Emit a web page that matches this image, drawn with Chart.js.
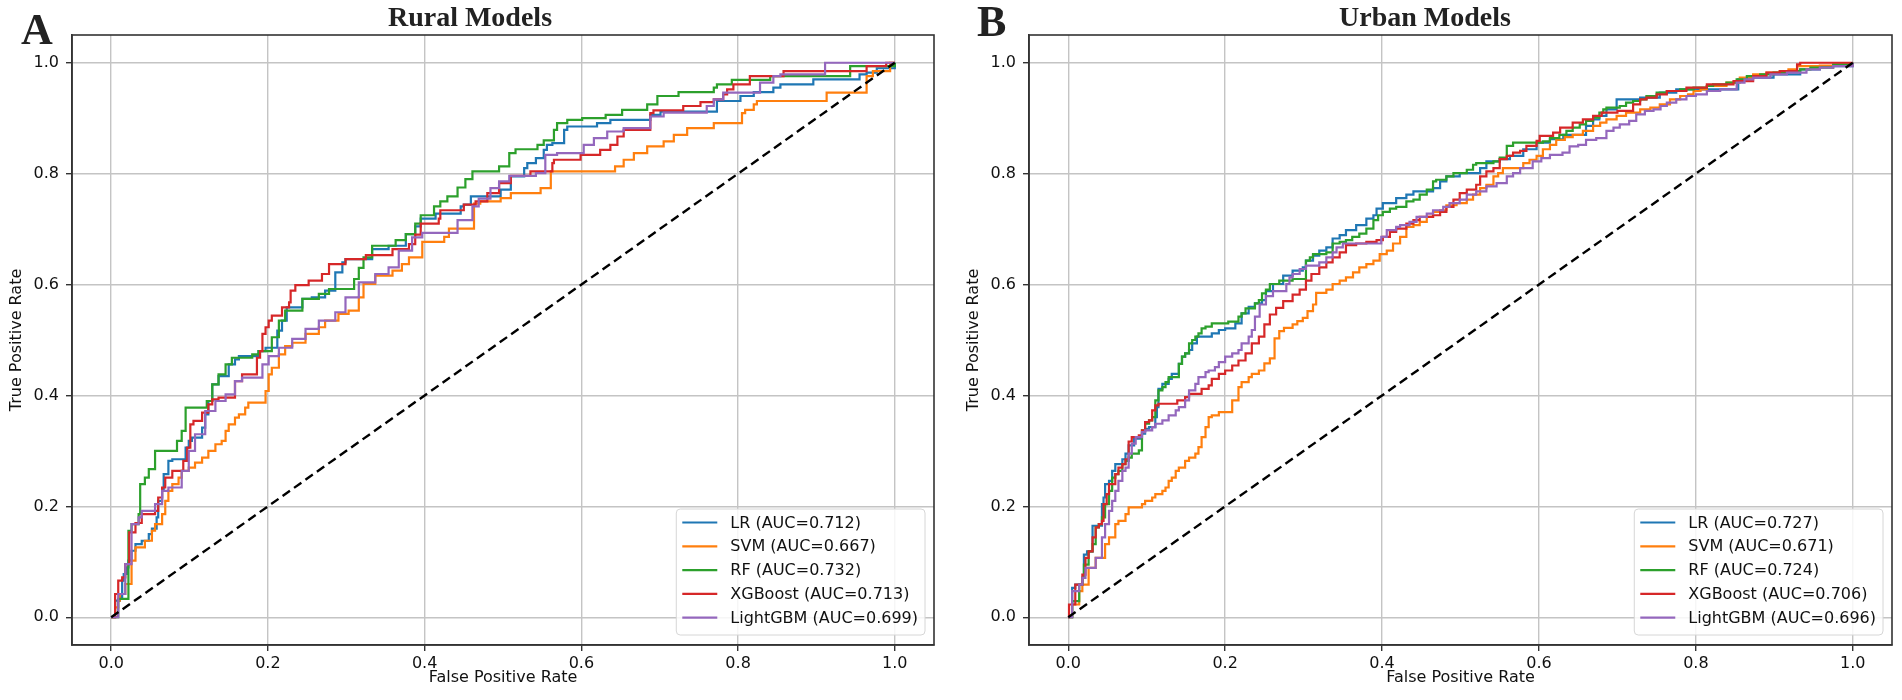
<!DOCTYPE html>
<html>
<head>
<meta charset="utf-8">
<title>ROC curves - Rural and Urban models</title>
<script src="https://cdn.jsdelivr.net/npm/chart.js@4.4.1/dist/chart.umd.min.js"></script>
<style>
  body { margin: 0; background: #fff; }
  #page { position: relative; width: 1902px; height: 700px; overflow: hidden; }
  .panel { position: absolute; top: 0; }
  .tag { position: absolute; font-family: "Liberation Serif", serif; font-weight: bold; font-size: 44px; line-height: 44px; color: #222; }
  .title { position: absolute; font-family: "Liberation Serif", serif; font-weight: bold; font-size: 28px; line-height: 28px; color: #222; transform: translateX(-50%); white-space: nowrap; }
</style>
</head>
<body>
<div id="page">
  <canvas id="rural" class="panel" style="left:0" width="951" height="700"></canvas>
  <canvas id="urban" class="panel" style="left:951px" width="951" height="700"></canvas>
  <div class="tag" style="left:21px; top:8px">A</div>
  <div class="tag" style="left:977px; top:0px">B</div>
  <div class="title" style="left:470px; top:3px">Rural Models</div>
  <div class="title" style="left:1425px; top:3px">Urban Models</div>
</div>
<script>
// model names and AUC values shown in the legends
const modelNames = ['LR', 'SVM', 'RF', 'XGBoost', 'LightGBM'];
const ruralAUC = [0.712, 0.667, 0.732, 0.713, 0.699];
const urbanAUC = [0.727, 0.671, 0.724, 0.706, 0.696];

// shared tick values for both axes
const rateTicks = [0, 0.2, 0.4, 0.6, 0.8, 1.0];
const chanceLine = [[0, 0], [1, 1]];

// ROC corner points, [fpr, tpr]
const ruralLR = [[0,0],[0.005,0.030],[0.011,0.036],[0.014,0.066],[0.016,0.078],[0.020,0.090],[0.022,0.102],[0.026,0.120],[0.031,0.132],[0.039,0.138],[0.048,0.150],[0.052,0.160],[0.058,0.180],[0.060,0.210],[0.065,0.228],[0.067,0.258],[0.073,0.282],[0.078,0.285],[0.095,0.306],[0.099,0.318],[0.103,0.324],[0.116,0.342],[0.120,0.366],[0.124,0.390],[0.129,0.420],[0.137,0.435],[0.150,0.456],[0.158,0.465],[0.163,0.471],[0.188,0.480],[0.197,0.486],[0.212,0.517],[0.218,0.535],[0.224,0.559],[0.244,0.574],[0.256,0.577],[0.273,0.589],[0.286,0.622],[0.295,0.640],[0.299,0.646],[0.333,0.664],[0.354,0.670],[0.376,0.691],[0.388,0.705],[0.395,0.719],[0.414,0.728],[0.446,0.741],[0.450,0.744],[0.459,0.759],[0.497,0.771],[0.510,0.795],[0.527,0.810],[0.531,0.819],[0.542,0.828],[0.552,0.843],[0.556,0.852],[0.563,0.855],[0.578,0.879],[0.582,0.885],[0.620,0.891],[0.637,0.897],[0.688,0.906],[0.701,0.912],[0.773,0.931],[0.803,0.940],[0.820,0.947],[0.845,0.955],[0.854,0.961],[0.896,0.970],[0.955,0.979],[0.964,0.982],[0.977,0.990],[1,1]];
const ruralSVM = [[0,0],[0.005,0.018],[0.009,0.030],[0.011,0.042],[0.018,0.060],[0.026,0.102],[0.031,0.126],[0.043,0.138],[0.052,0.156],[0.056,0.168],[0.065,0.186],[0.069,0.210],[0.073,0.228],[0.078,0.240],[0.086,0.252],[0.090,0.264],[0.099,0.270],[0.107,0.279],[0.116,0.288],[0.124,0.300],[0.133,0.312],[0.141,0.318],[0.146,0.336],[0.150,0.348],[0.158,0.360],[0.163,0.366],[0.171,0.378],[0.175,0.387],[0.197,0.408],[0.201,0.438],[0.205,0.450],[0.214,0.474],[0.222,0.489],[0.231,0.495],[0.248,0.511],[0.265,0.523],[0.273,0.535],[0.290,0.547],[0.303,0.553],[0.316,0.577],[0.322,0.601],[0.337,0.616],[0.359,0.625],[0.371,0.637],[0.380,0.649],[0.397,0.677],[0.425,0.686],[0.431,0.701],[0.463,0.746],[0.471,0.750],[0.497,0.756],[0.510,0.765],[0.548,0.774],[0.561,0.804],[0.643,0.813],[0.654,0.825],[0.667,0.837],[0.684,0.849],[0.705,0.858],[0.718,0.870],[0.735,0.882],[0.769,0.891],[0.805,0.909],[0.809,0.915],[0.820,0.925],[0.824,0.931],[0.913,0.946],[0.964,0.976],[0.972,0.985],[0.994,1.0],[1,1]];
const ruralRF = [[0,0],[0.009,0.033],[0.022,0.156],[0.026,0.168],[0.035,0.186],[0.037,0.240],[0.043,0.252],[0.048,0.267],[0.056,0.300],[0.084,0.318],[0.090,0.336],[0.095,0.378],[0.122,0.390],[0.129,0.420],[0.137,0.438],[0.146,0.456],[0.154,0.468],[0.180,0.474],[0.188,0.480],[0.205,0.505],[0.214,0.535],[0.222,0.553],[0.244,0.574],[0.265,0.583],[0.278,0.592],[0.310,0.610],[0.316,0.630],[0.322,0.649],[0.333,0.670],[0.363,0.680],[0.376,0.691],[0.388,0.710],[0.395,0.725],[0.412,0.741],[0.420,0.750],[0.429,0.759],[0.442,0.775],[0.452,0.790],[0.461,0.804],[0.495,0.813],[0.508,0.837],[0.516,0.844],[0.544,0.852],[0.552,0.860],[0.565,0.879],[0.569,0.891],[0.582,0.897],[0.601,0.900],[0.631,0.906],[0.652,0.915],[0.684,0.925],[0.697,0.940],[0.724,0.947],[0.769,0.955],[0.773,0.961],[0.792,0.969],[0.841,0.976],[0.943,0.994],[1,1]];
const ruralXGB = [[0,0],[0.005,0.042],[0.009,0.066],[0.014,0.072],[0.018,0.096],[0.023,0.153],[0.031,0.170],[0.039,0.186],[0.056,0.192],[0.060,0.216],[0.065,0.234],[0.069,0.252],[0.078,0.264],[0.092,0.282],[0.097,0.306],[0.101,0.348],[0.105,0.354],[0.116,0.369],[0.124,0.384],[0.129,0.393],[0.137,0.396],[0.158,0.426],[0.167,0.438],[0.186,0.468],[0.190,0.480],[0.193,0.511],[0.197,0.523],[0.201,0.535],[0.205,0.544],[0.218,0.559],[0.227,0.568],[0.229,0.589],[0.235,0.599],[0.252,0.607],[0.269,0.619],[0.278,0.637],[0.299,0.646],[0.325,0.653],[0.359,0.664],[0.380,0.673],[0.388,0.690],[0.395,0.710],[0.418,0.719],[0.420,0.734],[0.450,0.744],[0.465,0.750],[0.480,0.765],[0.495,0.783],[0.510,0.796],[0.535,0.804],[0.563,0.819],[0.565,0.825],[0.599,0.834],[0.624,0.843],[0.637,0.852],[0.646,0.867],[0.654,0.879],[0.688,0.909],[0.692,0.914],[0.730,0.922],[0.752,0.929],[0.769,0.934],[0.781,0.943],[0.786,0.952],[0.794,0.961],[0.815,0.976],[0.858,0.985],[0.964,0.994],[0.989,1.0],[1,1]];
const ruralLGBM = [[0,0],[0.009,0.042],[0.018,0.096],[0.026,0.168],[0.035,0.180],[0.039,0.192],[0.056,0.204],[0.065,0.228],[0.073,0.234],[0.090,0.264],[0.099,0.300],[0.107,0.330],[0.120,0.372],[0.133,0.390],[0.146,0.402],[0.158,0.426],[0.167,0.432],[0.193,0.456],[0.201,0.471],[0.214,0.486],[0.231,0.502],[0.248,0.520],[0.265,0.535],[0.286,0.550],[0.299,0.577],[0.316,0.604],[0.337,0.619],[0.354,0.631],[0.367,0.661],[0.384,0.685],[0.397,0.693],[0.442,0.716],[0.461,0.741],[0.469,0.755],[0.484,0.774],[0.495,0.786],[0.508,0.796],[0.542,0.801],[0.554,0.834],[0.569,0.837],[0.603,0.852],[0.616,0.864],[0.633,0.876],[0.654,0.882],[0.688,0.903],[0.705,0.910],[0.760,0.922],[0.769,0.934],[0.781,0.946],[0.828,0.964],[0.845,0.976],[0.854,0.979],[0.911,1.0],[1,1]];

const urbanLR = [[0,0],[0.005,0.053],[0.009,0.059],[0.018,0.071],[0.020,0.113],[0.024,0.119],[0.031,0.165],[0.043,0.204],[0.045,0.216],[0.047,0.240],[0.052,0.246],[0.056,0.264],[0.060,0.276],[0.069,0.285],[0.073,0.295],[0.077,0.310],[0.084,0.322],[0.094,0.331],[0.098,0.340],[0.103,0.343],[0.111,0.361],[0.113,0.379],[0.115,0.412],[0.120,0.421],[0.128,0.430],[0.132,0.439],[0.141,0.457],[0.145,0.470],[0.149,0.476],[0.154,0.482],[0.158,0.494],[0.164,0.506],[0.183,0.512],[0.192,0.518],[0.200,0.521],[0.213,0.530],[0.221,0.548],[0.230,0.560],[0.238,0.566],[0.247,0.572],[0.252,0.588],[0.261,0.601],[0.274,0.616],[0.286,0.625],[0.299,0.631],[0.303,0.643],[0.312,0.652],[0.320,0.661],[0.329,0.667],[0.337,0.683],[0.346,0.689],[0.354,0.698],[0.367,0.707],[0.380,0.719],[0.389,0.725],[0.393,0.737],[0.401,0.747],[0.418,0.756],[0.431,0.762],[0.440,0.768],[0.465,0.774],[0.474,0.786],[0.482,0.795],[0.499,0.801],[0.525,0.810],[0.533,0.822],[0.550,0.826],[0.563,0.832],[0.580,0.844],[0.597,0.856],[0.614,0.862],[0.631,0.870],[0.660,0.886],[0.669,0.898],[0.677,0.904],[0.686,0.916],[0.699,0.934],[0.729,0.937],[0.754,0.946],[0.775,0.952],[0.854,0.970],[0.865,0.973],[0.899,0.979],[0.933,0.988],[0.958,0.994],[1,1]];
const urbanSVM = [[0,0],[0.005,0.023],[0.014,0.047],[0.018,0.059],[0.026,0.089],[0.035,0.107],[0.047,0.132],[0.052,0.144],[0.060,0.168],[0.064,0.174],[0.073,0.186],[0.077,0.198],[0.094,0.204],[0.098,0.210],[0.107,0.216],[0.111,0.222],[0.120,0.228],[0.124,0.234],[0.128,0.246],[0.132,0.252],[0.137,0.264],[0.141,0.270],[0.149,0.282],[0.154,0.288],[0.162,0.295],[0.166,0.307],[0.170,0.325],[0.175,0.343],[0.179,0.361],[0.183,0.364],[0.192,0.370],[0.209,0.391],[0.217,0.415],[0.221,0.424],[0.230,0.433],[0.234,0.439],[0.243,0.445],[0.250,0.458],[0.257,0.467],[0.263,0.503],[0.269,0.516],[0.275,0.522],[0.286,0.528],[0.292,0.534],[0.299,0.540],[0.305,0.552],[0.312,0.564],[0.316,0.585],[0.329,0.591],[0.337,0.601],[0.346,0.607],[0.354,0.613],[0.363,0.622],[0.371,0.631],[0.380,0.637],[0.389,0.643],[0.397,0.655],[0.406,0.661],[0.414,0.674],[0.423,0.686],[0.431,0.704],[0.440,0.707],[0.448,0.713],[0.457,0.722],[0.465,0.731],[0.474,0.734],[0.482,0.743],[0.495,0.747],[0.508,0.753],[0.516,0.762],[0.525,0.774],[0.533,0.780],[0.542,0.795],[0.548,0.801],[0.554,0.810],[0.580,0.819],[0.588,0.825],[0.597,0.832],[0.605,0.844],[0.614,0.852],[0.622,0.861],[0.633,0.866],[0.643,0.870],[0.656,0.877],[0.669,0.886],[0.678,0.892],[0.686,0.898],[0.699,0.904],[0.711,0.910],[0.729,0.916],[0.742,0.919],[0.754,0.925],[0.767,0.934],[0.780,0.940],[0.790,0.943],[0.797,0.949],[0.806,0.952],[0.814,0.958],[0.839,0.964],[0.856,0.973],[0.873,0.979],[0.890,0.982],[0.907,0.985],[0.918,0.988],[0.929,0.994],[0.958,0.995],[1,1]];
const urbanRF = [[0,0],[0.005,0.029],[0.014,0.059],[0.018,0.071],[0.020,0.095],[0.026,0.119],[0.031,0.132],[0.035,0.162],[0.039,0.168],[0.043,0.180],[0.047,0.204],[0.052,0.228],[0.056,0.252],[0.060,0.258],[0.064,0.264],[0.069,0.276],[0.073,0.282],[0.077,0.288],[0.081,0.295],[0.090,0.301],[0.094,0.337],[0.098,0.349],[0.103,0.355],[0.107,0.361],[0.111,0.391],[0.115,0.409],[0.120,0.415],[0.124,0.424],[0.128,0.433],[0.141,0.457],[0.145,0.470],[0.149,0.476],[0.154,0.494],[0.158,0.500],[0.162,0.506],[0.166,0.512],[0.170,0.521],[0.175,0.524],[0.183,0.530],[0.204,0.533],[0.217,0.542],[0.221,0.548],[0.226,0.557],[0.238,0.566],[0.243,0.572],[0.247,0.584],[0.252,0.591],[0.257,0.601],[0.269,0.607],[0.286,0.610],[0.303,0.643],[0.308,0.649],[0.312,0.655],[0.329,0.658],[0.337,0.674],[0.346,0.677],[0.354,0.680],[0.362,0.686],[0.371,0.692],[0.380,0.701],[0.389,0.716],[0.395,0.725],[0.401,0.731],[0.410,0.737],[0.418,0.740],[0.431,0.750],[0.440,0.753],[0.448,0.762],[0.457,0.771],[0.465,0.786],[0.469,0.789],[0.482,0.795],[0.491,0.801],[0.508,0.807],[0.516,0.816],[0.520,0.819],[0.542,0.822],[0.550,0.829],[0.559,0.850],[0.567,0.856],[0.605,0.858],[0.614,0.864],[0.626,0.870],[0.635,0.877],[0.643,0.883],[0.652,0.889],[0.660,0.895],[0.669,0.901],[0.677,0.910],[0.682,0.916],[0.686,0.919],[0.703,0.922],[0.711,0.928],[0.720,0.931],[0.729,0.934],[0.737,0.940],[0.750,0.946],[0.763,0.949],[0.780,0.952],[0.797,0.955],[0.814,0.958],[0.822,0.961],[0.839,0.964],[0.852,0.970],[0.865,0.976],[0.882,0.979],[0.899,0.982],[0.916,0.985],[0.933,0.988],[0.946,0.991],[0.975,0.997],[1,1]];
const urbanXGB = [[0,0],[0.001,0.023],[0.009,0.059],[0.018,0.077],[0.022,0.107],[0.026,0.119],[0.031,0.144],[0.035,0.162],[0.039,0.168],[0.043,0.174],[0.045,0.204],[0.049,0.222],[0.052,0.240],[0.060,0.258],[0.064,0.270],[0.069,0.276],[0.073,0.285],[0.077,0.317],[0.081,0.325],[0.090,0.328],[0.094,0.337],[0.098,0.352],[0.103,0.355],[0.107,0.373],[0.111,0.382],[0.115,0.385],[0.139,0.391],[0.149,0.397],[0.154,0.403],[0.170,0.412],[0.179,0.418],[0.183,0.430],[0.192,0.439],[0.200,0.445],[0.209,0.454],[0.217,0.463],[0.226,0.476],[0.234,0.494],[0.243,0.506],[0.250,0.528],[0.257,0.546],[0.265,0.558],[0.274,0.570],[0.286,0.582],[0.295,0.591],[0.303,0.607],[0.310,0.619],[0.320,0.631],[0.329,0.640],[0.337,0.649],[0.346,0.658],[0.354,0.671],[0.367,0.674],[0.380,0.677],[0.393,0.680],[0.401,0.686],[0.410,0.695],[0.418,0.701],[0.431,0.710],[0.440,0.716],[0.448,0.722],[0.465,0.725],[0.474,0.731],[0.482,0.740],[0.491,0.753],[0.499,0.765],[0.508,0.771],[0.520,0.780],[0.525,0.795],[0.533,0.804],[0.542,0.810],[0.550,0.826],[0.559,0.832],[0.567,0.838],[0.576,0.841],[0.584,0.850],[0.597,0.859],[0.601,0.868],[0.618,0.874],[0.627,0.883],[0.643,0.892],[0.656,0.898],[0.669,0.904],[0.680,0.910],[0.700,0.913],[0.720,0.925],[0.729,0.934],[0.737,0.937],[0.750,0.943],[0.763,0.949],[0.788,0.955],[0.814,0.961],[0.848,0.967],[0.873,0.976],[0.890,0.982],[0.907,0.985],[0.929,0.997],[0.933,1.0],[1,1]];
const urbanLGBM = [[0,0],[0.005,0.047],[0.014,0.059],[0.018,0.071],[0.022,0.089],[0.035,0.107],[0.043,0.144],[0.047,0.168],[0.052,0.192],[0.056,0.210],[0.060,0.228],[0.064,0.246],[0.069,0.264],[0.073,0.270],[0.077,0.295],[0.081,0.313],[0.086,0.325],[0.094,0.334],[0.098,0.337],[0.107,0.343],[0.111,0.349],[0.120,0.355],[0.128,0.364],[0.137,0.373],[0.141,0.379],[0.149,0.391],[0.154,0.409],[0.162,0.421],[0.166,0.433],[0.175,0.442],[0.179,0.445],[0.187,0.451],[0.192,0.460],[0.200,0.470],[0.209,0.476],[0.217,0.482],[0.221,0.494],[0.230,0.506],[0.234,0.518],[0.238,0.542],[0.244,0.564],[0.252,0.579],[0.261,0.588],[0.278,0.601],[0.282,0.613],[0.286,0.619],[0.295,0.628],[0.303,0.634],[0.320,0.640],[0.329,0.649],[0.337,0.658],[0.342,0.667],[0.350,0.674],[0.399,0.686],[0.406,0.698],[0.418,0.704],[0.423,0.707],[0.435,0.713],[0.444,0.722],[0.457,0.728],[0.465,0.734],[0.478,0.740],[0.486,0.747],[0.499,0.753],[0.508,0.762],[0.520,0.768],[0.533,0.777],[0.546,0.783],[0.559,0.795],[0.567,0.801],[0.576,0.810],[0.592,0.822],[0.603,0.828],[0.614,0.834],[0.630,0.838],[0.639,0.849],[0.650,0.852],[0.660,0.861],[0.673,0.864],[0.686,0.877],[0.695,0.883],[0.703,0.889],[0.715,0.895],[0.724,0.907],[0.735,0.913],[0.746,0.916],[0.755,0.922],[0.763,0.928],[0.775,0.934],[0.788,0.940],[0.800,0.943],[0.814,0.949],[0.831,0.952],[0.852,0.964],[0.862,0.970],[0.873,0.973],[0.895,0.979],[0.916,0.982],[0.941,0.988],[0.958,0.991],[0.975,0.994],[1,1]];

const lineColors = ['#1f77b4', '#ff7f0e', '#2ca02c', '#d62728', '#9467bd'];

Chart.defaults.font.family = '"DejaVu Sans", sans-serif';
Chart.defaults.font.size = 16;
Chart.defaults.color = '#111';

function toPoints(pairs) {
    return pairs.map(p => ({ x: p[0], y: p[1] }));
}

// matplotlib style frame on all four sides
const frame = {
    id: 'frame',
    afterDatasetsDraw(chart) {
        const { ctx, chartArea: a } = chart;
        ctx.save();
        ctx.strokeStyle = '#333';
        ctx.lineWidth = 1.6;
        ctx.strokeRect(a.left, a.top, a.right - a.left, a.bottom - a.top);
        ctx.restore();
    }
};

// legend box in the lower right corner of the plot
const cornerLegend = {
    id: 'cornerLegend',
    afterDraw(chart) {
        const { ctx, chartArea: a } = chart;
        const items = chart.data.datasets.filter(d => d.label);
        ctx.save();
        ctx.font = '16px "DejaVu Sans"';
        const textW = Math.max(...items.map(d => ctx.measureText(d.label).width));
        const w = textW + 61;
        const h = items.length * 24 + 6;
        const x = a.right - 9 - w;
        const y = a.bottom - 10 - h;

        ctx.beginPath();
        ctx.roundRect(x, y, w, h, 4);
        ctx.fillStyle = 'rgba(255,255,255,0.85)';
        ctx.fill();
        ctx.strokeStyle = '#d6d6d6';
        ctx.lineWidth = 1;
        ctx.stroke();

        ctx.textBaseline = 'middle';
        items.forEach((d, i) => {
            const rowY = y + 13.5 + i * 23.8;
            ctx.beginPath();
            ctx.moveTo(x + 6, rowY);
            ctx.lineTo(x + 41, rowY);
            ctx.strokeStyle = d.borderColor;
            ctx.lineWidth = 2.2;
            ctx.stroke();
            ctx.fillStyle = '#111';
            ctx.fillText(d.label, x + 54, rowY + 1);
        });
        ctx.restore();
    }
};

function axisOptions(titleText, fit) {
    return {
        type: 'linear',
        min: -0.05,
        max: 1.05,
        afterBuildTicks: axis => { axis.ticks = rateTicks.map(v => ({ value: v })); },
        afterFit: fit,
        ticks: {
            callback: v => v.toFixed(1),
            autoSkip: false,
            maxRotation: 0,
            color: '#111',
        },
        grid: {
            color: '#c4c4c4',
            lineWidth: 1.4,
            tickLength: 6,
            tickColor: '#333',
            tickWidth: 1.4,
        },
        border: { color: '#333', width: 1.6 },
        title: {
            display: true,
            text: titleText,
            color: '#111',
            padding: { top: 4, bottom: 4 },
        },
    };
}

function createRocChart(canvasId, curves, aucs, padding) {
    const datasets = curves.map((curve, i) => ({
        label: modelNames[i] + ' (AUC=' + aucs[i].toFixed(3) + ')',
        data: toPoints(curve),
        borderColor: lineColors[i],
        borderWidth: 2.2,
        stepped: 'before',
        pointRadius: 0,
        fill: false,
        order: 10 - i,
    }));
    datasets.push({
        label: '',
        data: toPoints(chanceLine),
        borderColor: '#000',
        borderWidth: 2.4,
        borderDash: [9, 5],
        pointRadius: 0,
        fill: false,
        order: 0,
    });

    const xAxis = axisOptions('False Positive Rate', s => { s.height = 46; });
    const yAxis = axisOptions('True Positive Rate', s => { s.width = 69; });
    yAxis.ticks.padding = 7;

    const ctx = document.getElementById(canvasId).getContext('2d');
    return new Chart(ctx, {
        type: 'line',
        data: { datasets: datasets },
        options: {
            responsive: false,
            animation: false,
            layout: { padding: padding },
            scales: { x: xAxis, y: yAxis },
            plugins: {
                legend: { display: false },
                tooltip: { enabled: false },
            },
        },
        plugins: [frame, cornerLegend],
    });
}

createRocChart('rural', [ruralLR, ruralSVM, ruralRF, ruralXGB, ruralLGBM], ruralAUC,
    { left: 3, top: 35, right: 17, bottom: 9 });
createRocChart('urban', [urbanLR, urbanSVM, urbanRF, urbanXGB, urbanLGBM], urbanAUC,
    { left: 9, top: 35, right: 10, bottom: 9 });
</script>
</body>
</html>
